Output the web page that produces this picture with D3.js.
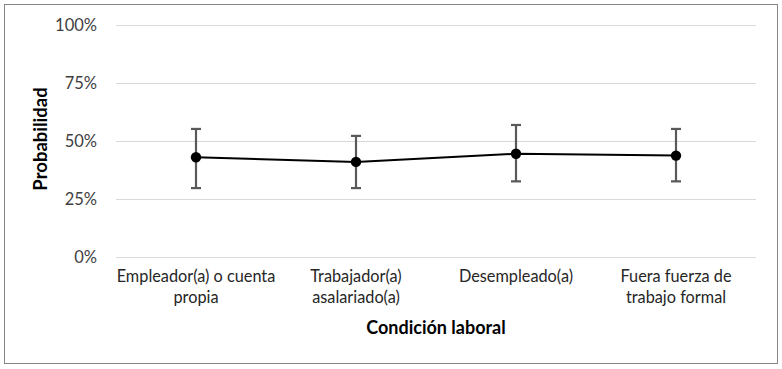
<!DOCTYPE html>
<html><head><meta charset="utf-8">
<script src="https://cdn.jsdelivr.net/npm/d3@7"></script>
<style>body{margin:0;background:#fff}svg{display:block}</style>
</head><body>
<script>
const categories = [["Empleador(a) o cuenta","propia"],["Trabajador(a)","asalariado(a)"],["Desempleado(a)"],["Fuera fuerza de","trabajo formal"]];
const values = [0.43, 0.41, 0.445, 0.437];
const lower = [0.297, 0.297, 0.326, 0.326];
const upper = [0.552, 0.522, 0.569, 0.552];
const yTicks = [0, 0.25, 0.5, 0.75, 1];

const W = 782, H = 369;
const svg = d3.select("body").append("svg").attr("width", W).attr("height", H);
svg.append("rect").attr("x", 4.5).attr("y", 4.5).attr("width", 773).attr("height", 359)
  .attr("fill", "#fff").attr("stroke", "#868686").attr("stroke-width", 1);

const font = "Lato, 'Open Sans', sans-serif";
const x = d3.scaleBand().domain(d3.range(categories.length)).range([116, 756]);
const y = d3.scaleLinear().domain([0, 1]).range([257, 25]);

svg.append("g").selectAll("line").data(yTicks).join("line")
  .attr("x1", 116).attr("x2", 756)
  .attr("y1", d => Math.round(y(d)) + 0.5).attr("y2", d => Math.round(y(d)) + 0.5)
  .attr("stroke", "#d9d9d9").attr("stroke-width", 1);

svg.append("g").selectAll("text").data(yTicks).join("text")
  .attr("x", 97).attr("y", d => y(d)).attr("dy", "0.35em")
  .attr("text-anchor", "end").attr("font-family", font).attr("font-size", 16.5).attr("fill", "#404040")
  .text(d => d3.format(".0%")(d));

const cx = i => x(i) + x.bandwidth() / 2;

const eb = svg.append("g").attr("stroke", "#595959").attr("stroke-width", 2.2).attr("fill", "none");
values.forEach((v, i) => {
  eb.append("line").attr("x1", cx(i)).attr("x2", cx(i)).attr("y1", y(upper[i])).attr("y2", y(lower[i]));
  eb.append("line").attr("x1", cx(i) - 5).attr("x2", cx(i) + 5).attr("y1", y(upper[i])).attr("y2", y(upper[i]));
  eb.append("line").attr("x1", cx(i) - 5).attr("x2", cx(i) + 5).attr("y1", y(lower[i])).attr("y2", y(lower[i]));
});

svg.append("path").datum(values)
  .attr("d", d3.line().x((d, i) => cx(i)).y(d => y(d)))
  .attr("fill", "none").attr("stroke", "#000").attr("stroke-width", 2);

svg.append("g").selectAll("circle").data(values).join("circle")
  .attr("cx", (d, i) => cx(i)).attr("cy", d => y(d)).attr("r", 5.2).attr("fill", "#000");

const lab = svg.append("g").attr("font-family", font).attr("font-size", 16.3).attr("fill", "#262626").attr("text-anchor", "middle");
categories.forEach((lines, i) => {
  const t = lab.append("text").attr("x", cx(i)).attr("y", 282);
  lines.forEach((l, j) => t.append("tspan").attr("x", cx(i)).attr("dy", j ? 21 : 0).text(l));
});

svg.append("text").attr("x", 436).attr("y", 334).attr("text-anchor", "middle")
  .attr("font-family", font).attr("font-size", 18).attr("font-weight", "bold").attr("fill", "#000")
  .text("Condición laboral");

svg.append("text").attr("transform", "translate(47,139) rotate(-90)").attr("text-anchor", "middle")
  .attr("font-family", font).attr("font-size", 18.5).attr("font-weight", "bold").attr("fill", "#000")
  .text("Probabilidad");
</script>
</body></html>
